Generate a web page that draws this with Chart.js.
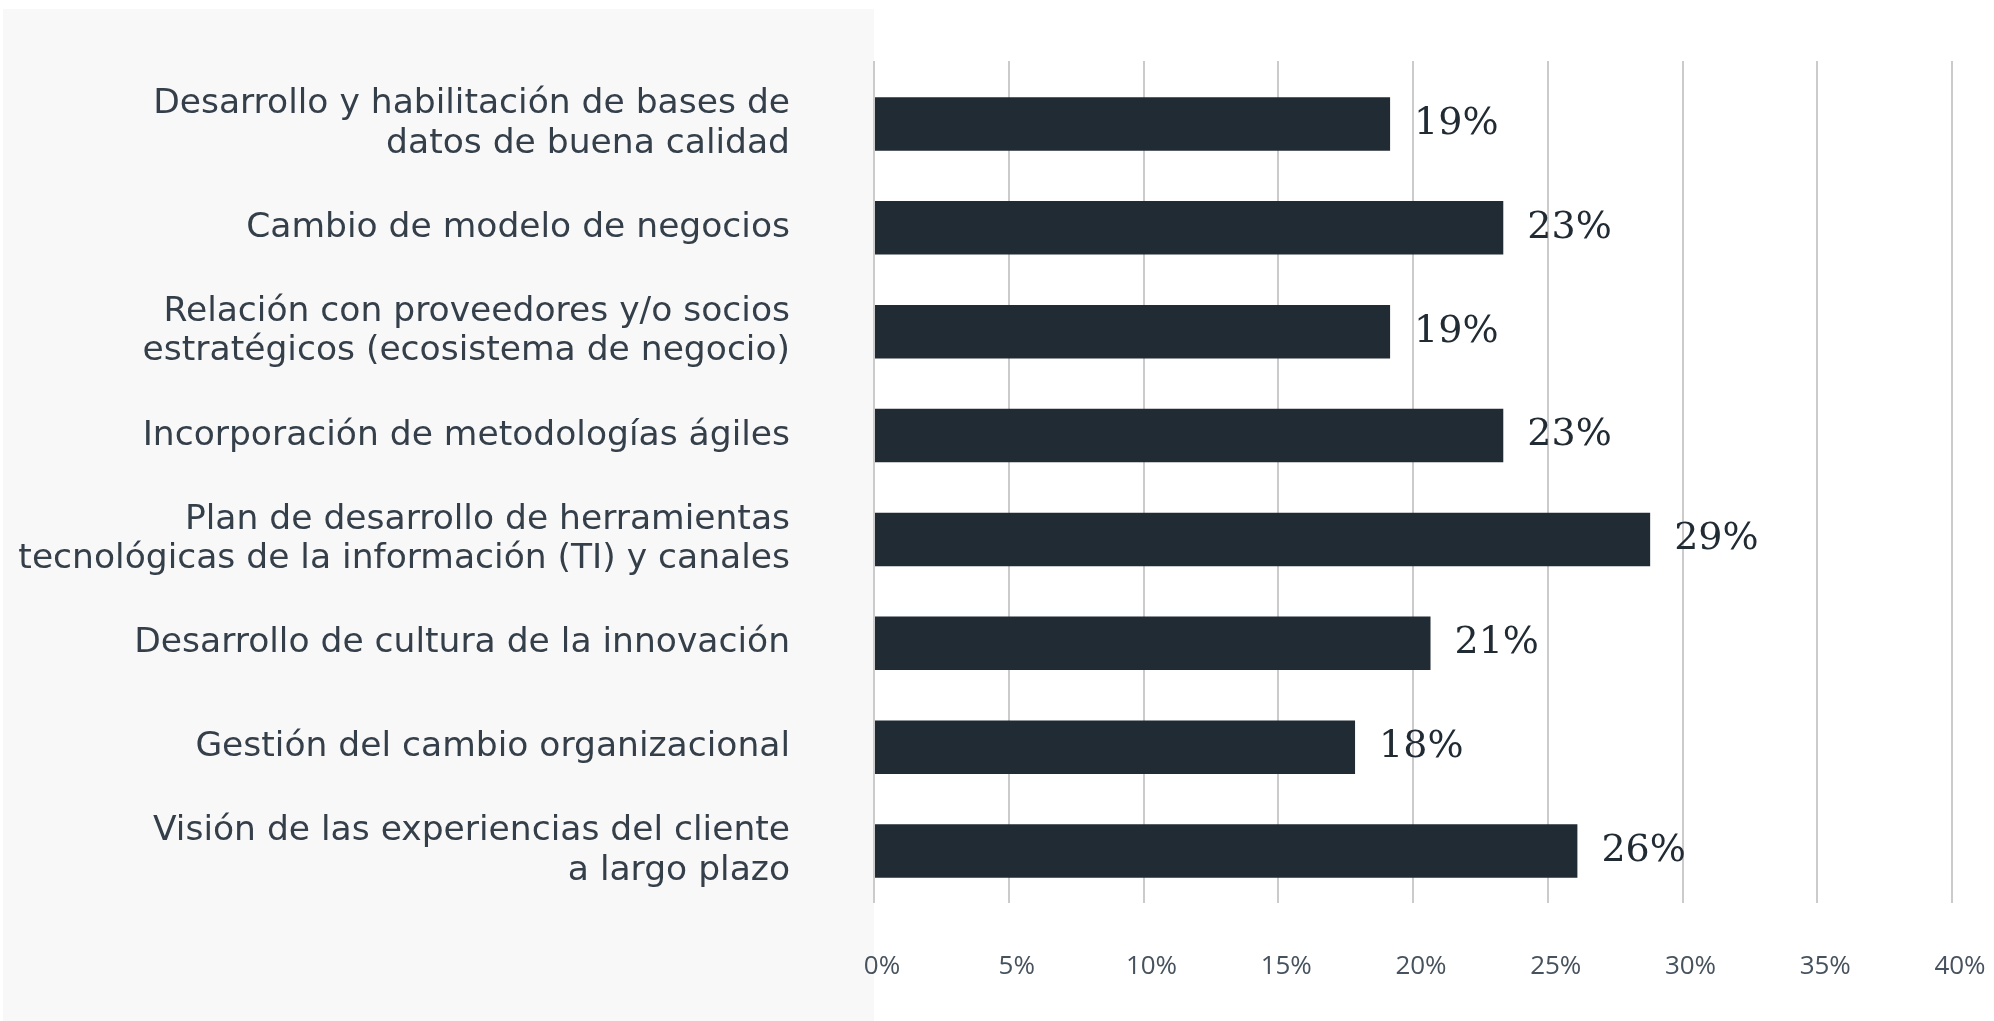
<!DOCTYPE html>
<html>
<head>
<meta charset="utf-8">
<script src="https://cdn.jsdelivr.net/npm/chart.js@4.4.1/dist/chart.umd.min.js"></script>
<style>
  html, body { margin: 0; padding: 0; background: #ffffff; }
  #wrap { position: relative; width: 1994px; height: 1021px; }
  #panel { position: absolute; left: 3px; top: 9px; width: 871px; height: 1012px; background: #f8f8f8; }
  #c { position: absolute; left: 0; top: 0; }
</style>
</head>
<body>
<div id="wrap">
  <div id="panel"></div>
  <canvas id="c" width="1994" height="1021"></canvas>
</div>
<script>
const categories = [
  ["Desarrollo y habilitación de bases de", "datos de buena calidad"],
  ["Cambio de modelo de negocios"],
  ["Relación con proveedores y/o socios", "estratégicos (ecosistema de negocio)"],
  ["Incorporación de metodologías ágiles"],
  ["Plan de desarrollo de herramientas", "tecnológicas de la información (TI) y canales"],
  ["Desarrollo de cultura de la innovación"],
  ["Gestión del cambio organizacional"],
  ["Visión de las experiencias del cliente", "a largo plazo"]
];
const values = [19.15, 23.35, 19.15, 23.35, 28.8, 20.65, 17.85, 26.1];
const valueLabels = ["19%", "23%", "19%", "23%", "29%", "21%", "18%", "26%"];
const xTicks = [0, 5, 10, 15, 20, 25, 30, 35, 40];

const valueLabelPlugin = {
  id: 'valueLabels',
  afterDatasetsDraw(chart) {
    const ctx = chart.ctx;
    const meta = chart.getDatasetMeta(0);
    ctx.save();
    ctx.font = "38px 'DejaVu Serif'";
    ctx.fillStyle = '#212b34';
    ctx.textAlign = 'left';
    ctx.textBaseline = 'middle';
    meta.data.forEach((bar, i) => {
      ctx.fillText(valueLabels[i], bar.x + 24, bar.y);
    });
    ctx.restore();
  }
};

const gridColor = '#cbcbcb';

new Chart(document.getElementById('c'), {
  type: 'bar',
  data: {
    labels: categories,
    datasets: [{
      data: values,
      backgroundColor: '#212b34',
      borderWidth: 0,
      categoryPercentage: 1,
      barPercentage: 0.514
    }]
  },
  options: {
    indexAxis: 'y',
    responsive: false,
    animation: false,
    layout: { padding: { left: 0, right: 42, top: 0, bottom: 0 } },
    plugins: { legend: { display: false }, tooltip: { enabled: false } },
    scales: {
      y: {
        type: 'category',
        grid: { display: false, drawTicks: false },
        border: { display: false },
        ticks: {
          padding: 84,
          color: '#343f4a',
          font: { family: 'DejaVu Sans', size: 34.5, lineHeight: 1.15 }
        },
        afterFit(s) { s.width = 874; s.paddingTop = 0; s.paddingBottom = 0; }
      },
      x: {
        type: 'linear',
        position: 'bottom',
        min: 0, max: 40,
        afterBuildTicks(s) { s.ticks = xTicks.map(v => ({ value: v })); },
        grid: { color: gridColor, lineWidth: 2, drawTicks: false },
        border: { display: false },
        ticks: {
          padding: 48,
          labelOffset: 8,
          color: '#46525d',
          font: { family: 'Open Sans', size: 26 },
          callback: v => v + '%'
        },
        afterFit(s) { s.height = 118; s.paddingLeft = 0; s.paddingRight = 0; }
      },
      x2: {
        type: 'linear',
        position: 'top',
        min: 0, max: 40,
        afterBuildTicks(s) { s.ticks = xTicks.map(v => ({ value: v })); },
        grid: { color: gridColor, lineWidth: 2, drawOnChartArea: false, drawTicks: true, tickLength: 11 },
        border: { display: false },
        ticks: { display: false },
        afterFit(s) { s.height = 72; s.paddingLeft = 0; s.paddingRight = 0; }
      }
    }
  },
  plugins: [valueLabelPlugin]
});
</script>
</body>
</html>
